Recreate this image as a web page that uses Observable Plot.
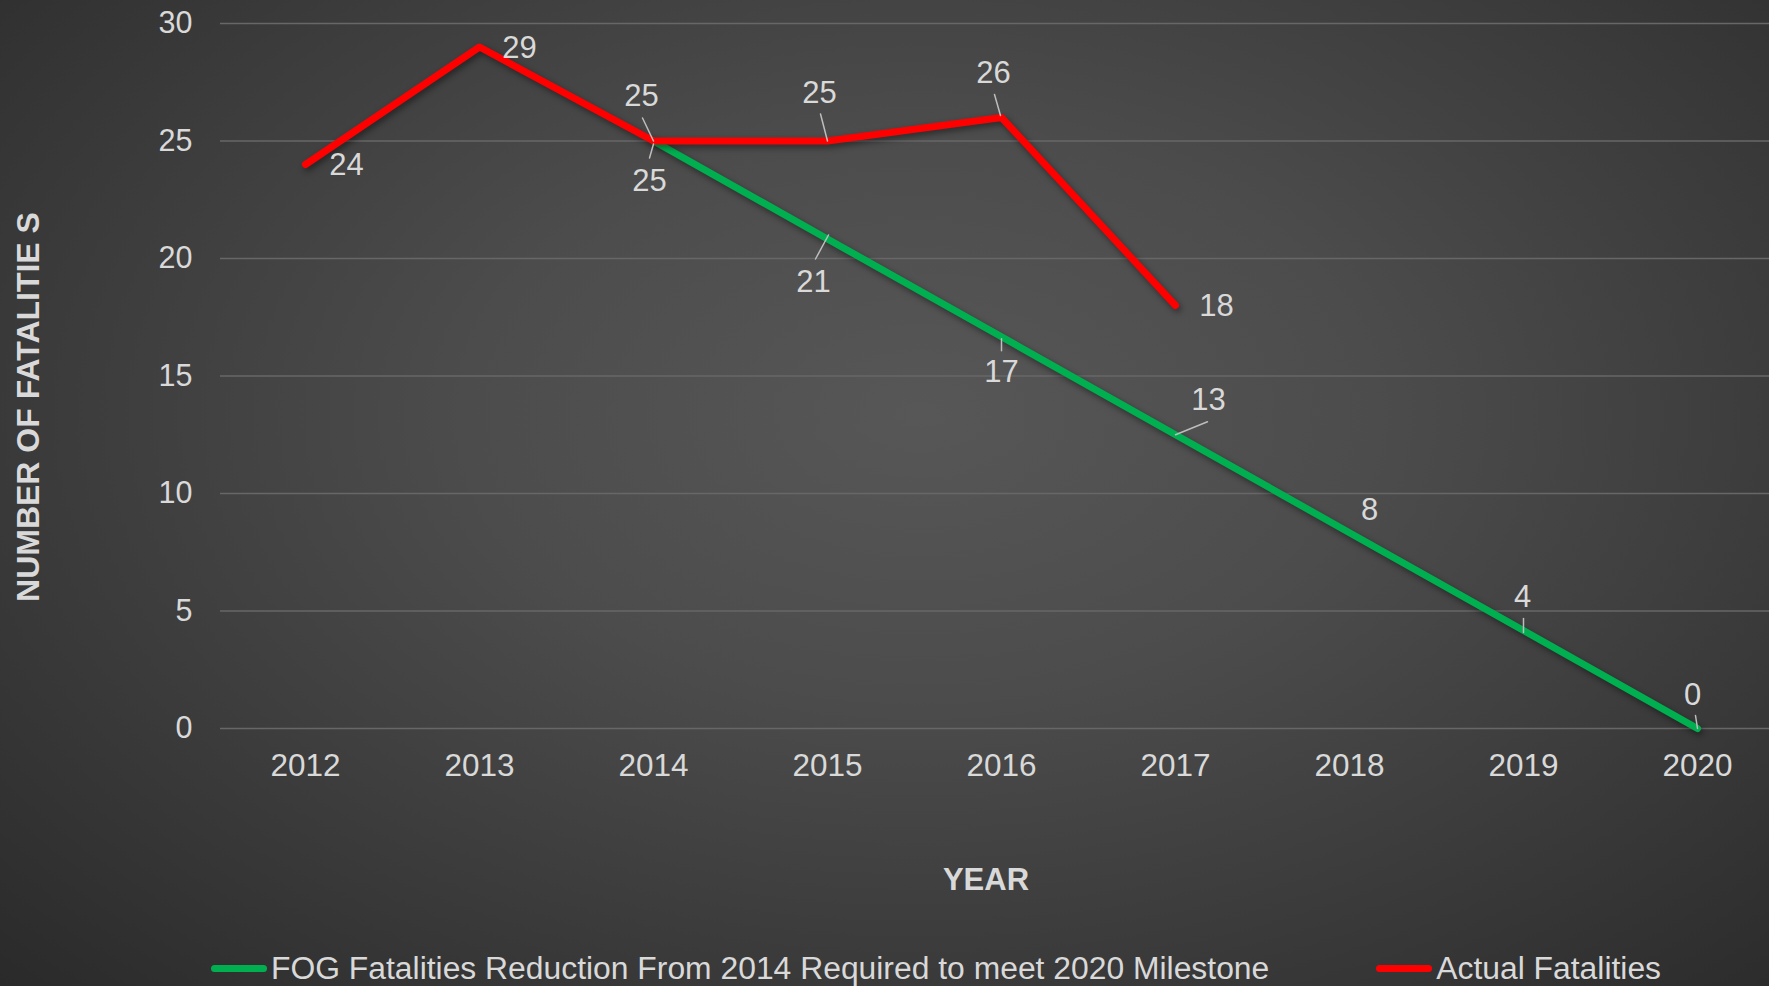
<!DOCTYPE html>
<html>
<head>
<meta charset="utf-8">
<script src="https://cdn.jsdelivr.net/npm/d3@7"></script>
<script src="https://cdn.jsdelivr.net/npm/@observablehq/plot@0.6"></script>
<style>
  html, body { margin: 0; padding: 0; width: 1769px; height: 986px; overflow: hidden; }
  body {
    position: relative;
    background: radial-gradient(ellipse farthest-corner at 52% 42%, #575757 0%, #4c4c4c 35%, #2a2a2a 100%);
    font-family: "Liberation Sans", Arial, sans-serif;
  }
  #chart svg g[aria-label="line"] path { filter: drop-shadow(2px 3px 3px rgba(0,0,0,0.45)); }
  #legend {
    position: absolute; left: 0; top: 940px; height: 56px; width: 1769px;
    display: flex; align-items: center; padding-left: 211px; box-sizing: border-box;
    color: #d9d9d9; font-size: 31.85px; white-space: nowrap;
  }
  .item { display: flex; align-items: center; }
  .sw { width: 56px; height: 7px; border-radius: 3.5px; margin-right: 4px; }
</style>
</head>
<body>
<div id="chart"></div>
<div id="legend"></div>
<script>
// ---- data ----
const years = [2012, 2013, 2014, 2015, 2016, 2017, 2018, 2019, 2020];
const yTicks = [0, 5, 10, 15, 20, 25, 30];

const targetYears = [2014, 2015, 2016, 2017, 2018, 2019, 2020];
const targetValues = [25, 20.83, 16.67, 12.5, 8.33, 4.17, 0];
const targetLabels = ["25", "21", "17", "13", "8", "4", "0"];

const actualYears = [2012, 2013, 2014, 2015, 2016, 2017];
const actualValues = [24, 29, 25, 25, 26, 18];
const actualLabels = ["24", "29", "25", "25", "26", "18"];

const seriesNames = ["FOG Fatalities Reduction From 2014 Required to meet 2020 Milestone", "Actual Fatalities"];
const seriesColors = ["#00B050", "#FF0000"];

const yTitle = "NUMBER OF FATALITIE S";
const xTitle = "YEAR";

// ---- label placement (pixel offsets: label dx, dy; leader x1,y1,x2,y2) ----
const targetPlacement = [
  [-4, 40, [0, 3, -4, 17]],
  [-14, 43, [1, -4, -12, 20]],
  [0, 35, [0, 2, 0, 14]],
  [33, -35, [0, 0, 32, -13]],
  [20, -23, null],
  [-1, -33, [0, 2, 0, -12]],
  [-5, -33, [0, 0, -2, -13]]
];
const actualPlacement = [
  [41, 1, null],
  [40, 1, null],
  [-12, -45, [0, 0, -11, -23]],
  [-8, -48, [0, 0, -7, -27]],
  [-8, -44, [-1, -2, -7, -23]],
  [41, 1, null]
];

const target = targetYears.map((yr, i) => ({year: yr, value: targetValues[i], label: targetLabels[i]}));
const actual = actualYears.map((yr, i) => ({year: yr, value: actualValues[i], label: actualLabels[i]}));

const textColor = "#d9d9d9";
const leaderShape = {draw(context, l) { context.moveTo(0, 0); context.lineTo(0, -l); }};

function labelMarks(rows, placement) {
  const marks = [];
  rows.forEach((d, i) => {
    const [dx, dy, leader] = placement[i];
    if (leader) {
      const [x1, y1, x2, y2] = leader;
      const len = Math.hypot(x2 - x1, y2 - y1);
      const rot = Math.atan2(x2 - x1, -(y2 - y1)) * 180 / Math.PI;
      marks.push(Plot.vector([d], {
        x: "year", y: "value", dx: x1, dy: y1, length: len, rotate: rot,
        anchor: "start", shape: leaderShape, stroke: "#bdbdbd", strokeWidth: 1.5
      }));
    }
    marks.push(Plot.text([d], {
      x: "year", y: "value", text: "label", dx, dy,
      fill: textColor, fontSize: 31
    }));
  });
  return marks;
}

const plot = Plot.plot({
  width: 1769,
  height: 930,
  marginLeft: 220,
  marginRight: 0,
  marginTop: 23,
  marginBottom: 202,
  style: {
    background: "transparent",
    color: textColor,
    fontFamily: "Liberation Sans, Arial, sans-serif",
    fontSize: "30px",
    overflow: "visible"
  },
  x: {type: "point", domain: years, range: [303, 1699], padding: 0},
  y: {domain: [0, 30]},
  marks: [
    Plot.ruleY(yTicks, {stroke: "#676767", strokeWidth: 1.5}),
    Plot.axisX({tickSize: 0, tickPadding: 25, fontSize: 31.5, tickFormat: d => String(d), label: null}),
    Plot.axisY(yTicks, {tickSize: 0, tickPadding: 28, fontSize: 30.5, label: null}),
    Plot.line(target, {x: "year", y: "value", stroke: seriesColors[0], strokeWidth: 7, strokeLinecap: "round", strokeLinejoin: "round"}),
    Plot.line(actual, {x: "year", y: "value", stroke: seriesColors[1], strokeWidth: 7, strokeLinecap: "round", strokeLinejoin: "round"}),
    ...labelMarks(target, targetPlacement),
    ...labelMarks(actual, actualPlacement),
    Plot.text([yTitle], {frameAnchor: "left", textAnchor: "middle", rotate: -90, dx: -192, dy: 31, fill: textColor, fontWeight: "bold", fontSize: 32}),
    Plot.text([xTitle], {frameAnchor: "bottom", dx: -9, dy: 161, fill: textColor, fontWeight: "bold", fontSize: 31})
  ]
});
document.getElementById("chart").appendChild(plot);

const legend = d3.select("#legend");
seriesNames.forEach((name, i) => {
  const item = legend.append("div").attr("class", "item").style("margin-right", i === 0 ? "107px" : "0");
  item.append("div").attr("class", "sw").style("background", seriesColors[i]);
  item.append("span").text(name);
});
</script>
</body>
</html>
